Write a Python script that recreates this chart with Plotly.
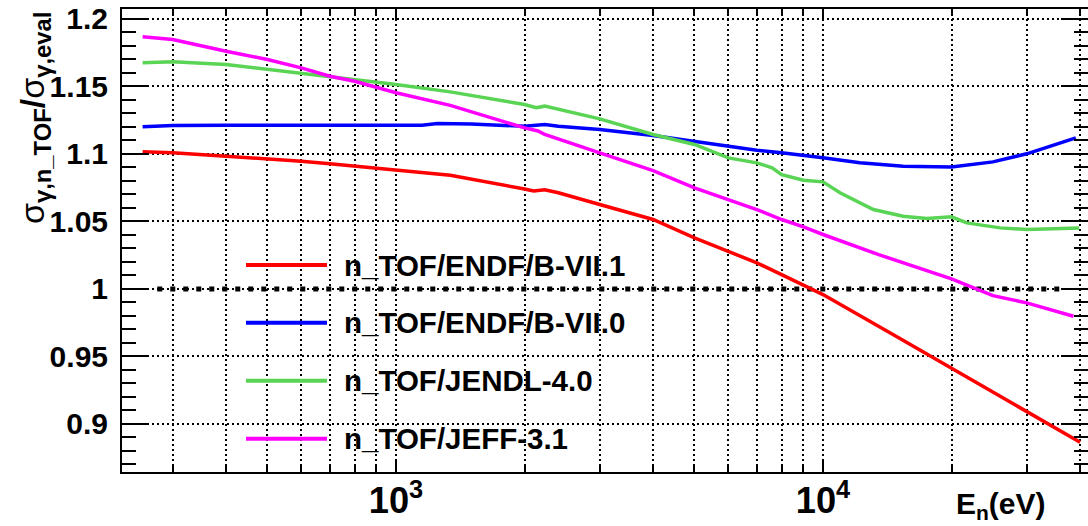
import plotly.graph_objects as go

# Neutron energies (eV) and cross-section ratios for each evaluation
e_endf71 = [255, 300, 400, 500, 600, 700, 800, 900, 1000, 1340, 2000, 2100, 2230, 2400,
            3000, 4000, 5000, 6000, 7000, 8000, 9000, 10000, 15000, 20000, 30000, 40000]
r_endf71 = [1.1016, 1.1008, 1.0983, 1.0964, 1.0946, 1.0927, 1.0909, 1.0892, 1.0877, 1.0842,
            1.0740, 1.0725, 1.0735, 1.0712, 1.0625, 1.0514, 1.0378, 1.0279, 1.0193, 1.0106,
            1.0027, 0.9958, 0.9640, 0.9414, 0.9093, 0.8863]

e_endf70 = [255, 300, 400, 600, 800, 1000, 1150, 1250, 1500, 2000, 2230, 2400, 3000, 4000,
            5000, 6000, 7000, 8000, 9000, 10000, 12200, 15400, 20000, 25000, 30000, 39100]
r_endf70 = [1.1201, 1.1210, 1.1213, 1.1215, 1.1213, 1.1213, 1.1213, 1.1225, 1.1222, 1.1205,
            1.1218, 1.1205, 1.1181, 1.1136, 1.1090, 1.1053, 1.1027, 1.1008, 1.0990, 1.0971,
            1.0934, 1.0909, 1.0904, 1.0941, 1.1001, 1.1119]

e_jendl = [255, 300, 400, 500, 600, 700, 800, 900, 1000, 1340, 2000, 2130, 2230, 3000, 4000,
           5000, 5500, 6000, 7000, 7600, 8000, 9000, 10000, 10960, 13120, 15400, 17500, 20000,
           21700, 26000, 30000, 39800]
r_jendl = [1.1675, 1.1683, 1.1663, 1.1626, 1.1601, 1.1576, 1.1551, 1.1532, 1.1514, 1.1460,
           1.1366, 1.1342, 1.1354, 1.1260, 1.1144, 1.1070, 1.1020, 1.0971, 1.0934, 1.0897,
           1.0847, 1.0805, 1.0793, 1.0712, 1.0588, 1.0538, 1.0521, 1.0534, 1.0489, 1.0452,
           1.0440, 1.0452]

e_jeff = [255, 300, 400, 500, 600, 700, 800, 900, 1000, 1340, 2000, 2150, 2230, 3000, 4000,
          5000, 6000, 7000, 8000, 9000, 10000, 13500, 20000, 25000, 30000, 38600]
r_jeff = [1.1868, 1.1848, 1.1761, 1.1700, 1.1638, 1.1576, 1.1539, 1.1494, 1.1453, 1.1360,
          1.1193, 1.1170, 1.1144, 1.1008, 1.0877, 1.0749, 1.0662, 1.0588, 1.0514, 1.0460,
          1.0403, 1.0254, 1.0074, 0.9950, 0.9896, 0.9797]

# Unity reference line
unity_e = [276, 36900]
unity_r = [1.0, 1.0]

series_names = ["n_TOF/ENDF/B-VII.1", "n_TOF/ENDF/B-VII.0", "n_TOF/JENDL-4.0", "n_TOF/JEFF-3.1"]
series_colors = ["#ff0000", "#0000ff", "#59d454", "#ff00ff"]

y_tickvals = [0.9, 0.95, 1.0, 1.05, 1.1, 1.15, 1.2]
y_ticktext = ["0.9", "0.95", "1", "1.05", "1.1", "1.15", "1.2"]

FONT = "Liberation Sans"

fig = go.Figure()

fig.add_trace(go.Scatter(x=unity_e, y=unity_r, mode="lines",
                         line=dict(color="black", width=5, dash="5px,8px")))

for (e, r), name, col in zip([(e_endf71, r_endf71), (e_endf70, r_endf70),
                              (e_jendl, r_jendl), (e_jeff, r_jeff)],
                             series_names, series_colors):
    fig.add_trace(go.Scatter(x=e, y=r, mode="lines", name=name,
                             line=dict(color=col, width=3.5)))

# Plot frame geometry (pixels)
W, H = 1088, 526
ML, MR, MT, MB = 122, 0, 9, 54
PW = W - ML - MR
PH = H - MT - MB


def px(xp):
    return (xp - ML) / PW


def py(yp):
    return (H - MB - yp) / PH


# Hand-built legend: sample line + bold label
leg_rows = [265, 322.7, 380.7, 438.7]
shapes = []
annotations = []
for row, name, col in zip(leg_rows, series_names, series_colors):
    shapes.append(dict(type="line", xref="paper", yref="paper",
                       x0=px(246), x1=px(327), y0=py(row), y1=py(row),
                       line=dict(color=col, width=4)))
    annotations.append(dict(xref="paper", yref="paper", x=px(342), y=py(row),
                            xanchor="left", yanchor="middle", showarrow=False,
                            text=name,
                            font=dict(family=FONT, size=29.5, color="black", weight="bold")))

# Axis titles
annotations.append(dict(
    xref="paper", yref="paper", x=px(34), y=py(10), xanchor="center", yanchor="top",
    textangle=-90, showarrow=False,
    text='<span style="font-weight:normal">σ</span><sub>γ,n_TOF</sub>/'
         '<span style="font-weight:normal">σ</span><sub>γ,eval</sub>',
    font=dict(family=FONT, size=34, color="black", weight="bold")))
annotations.append(dict(
    xref="paper", yref="paper", x=px(1048), y=py(505), xanchor="right", yanchor="middle",
    showarrow=False, text="E<sub>n</sub>(eV)",
    font=dict(family=FONT, size=30, color="black", weight="bold")))

grid_common = dict(gridcolor="black", gridwidth=1.5, griddash="2px,3px")

fig.update_layout(
    width=W, height=H,
    margin=dict(l=ML, r=MR, t=MT, b=MB, pad=0, autoexpand=False),
    paper_bgcolor="white", plot_bgcolor="white",
    showlegend=False,
    shapes=shapes, annotations=annotations,
    xaxis=dict(
        type="log", range=[2.3583, 4.6206], automargin=False,
        dtick=1, tick0=0, exponentformat="power",
        ticks="inside", ticklen=12, tickwidth=2, tickcolor="black",
        showline=True, linewidth=2, linecolor="black", mirror="ticks",
        showgrid=True, **grid_common,
        tickfont=dict(family=FONT, size=29, color="black", weight="bold"),
        ticklabelstandoff=-3,
        minor=dict(dtick="D1", ticks="inside", ticklen=7, tickwidth=2, tickcolor="black",
                   showgrid=True, **grid_common),
        zeroline=False,
    ),
    yaxis=dict(
        range=[0.8643, 1.2074], automargin=False,
        tickmode="array", tickvals=y_tickvals, ticktext=y_ticktext,
        ticks="inside", ticklen=27, tickwidth=2, tickcolor="black",
        showline=True, linewidth=2, linecolor="black", mirror="ticks",
        showgrid=True, **grid_common,
        tickfont=dict(family=FONT, size=30, color="black", weight="bold"),
        ticklabelstandoff=6,
        minor=dict(dtick=0.01, tick0=0.9, ticks="inside", ticklen=14, tickwidth=2,
                   tickcolor="black", showgrid=False),
        zeroline=False,
    ),
)

fig.write_html("out.html")
